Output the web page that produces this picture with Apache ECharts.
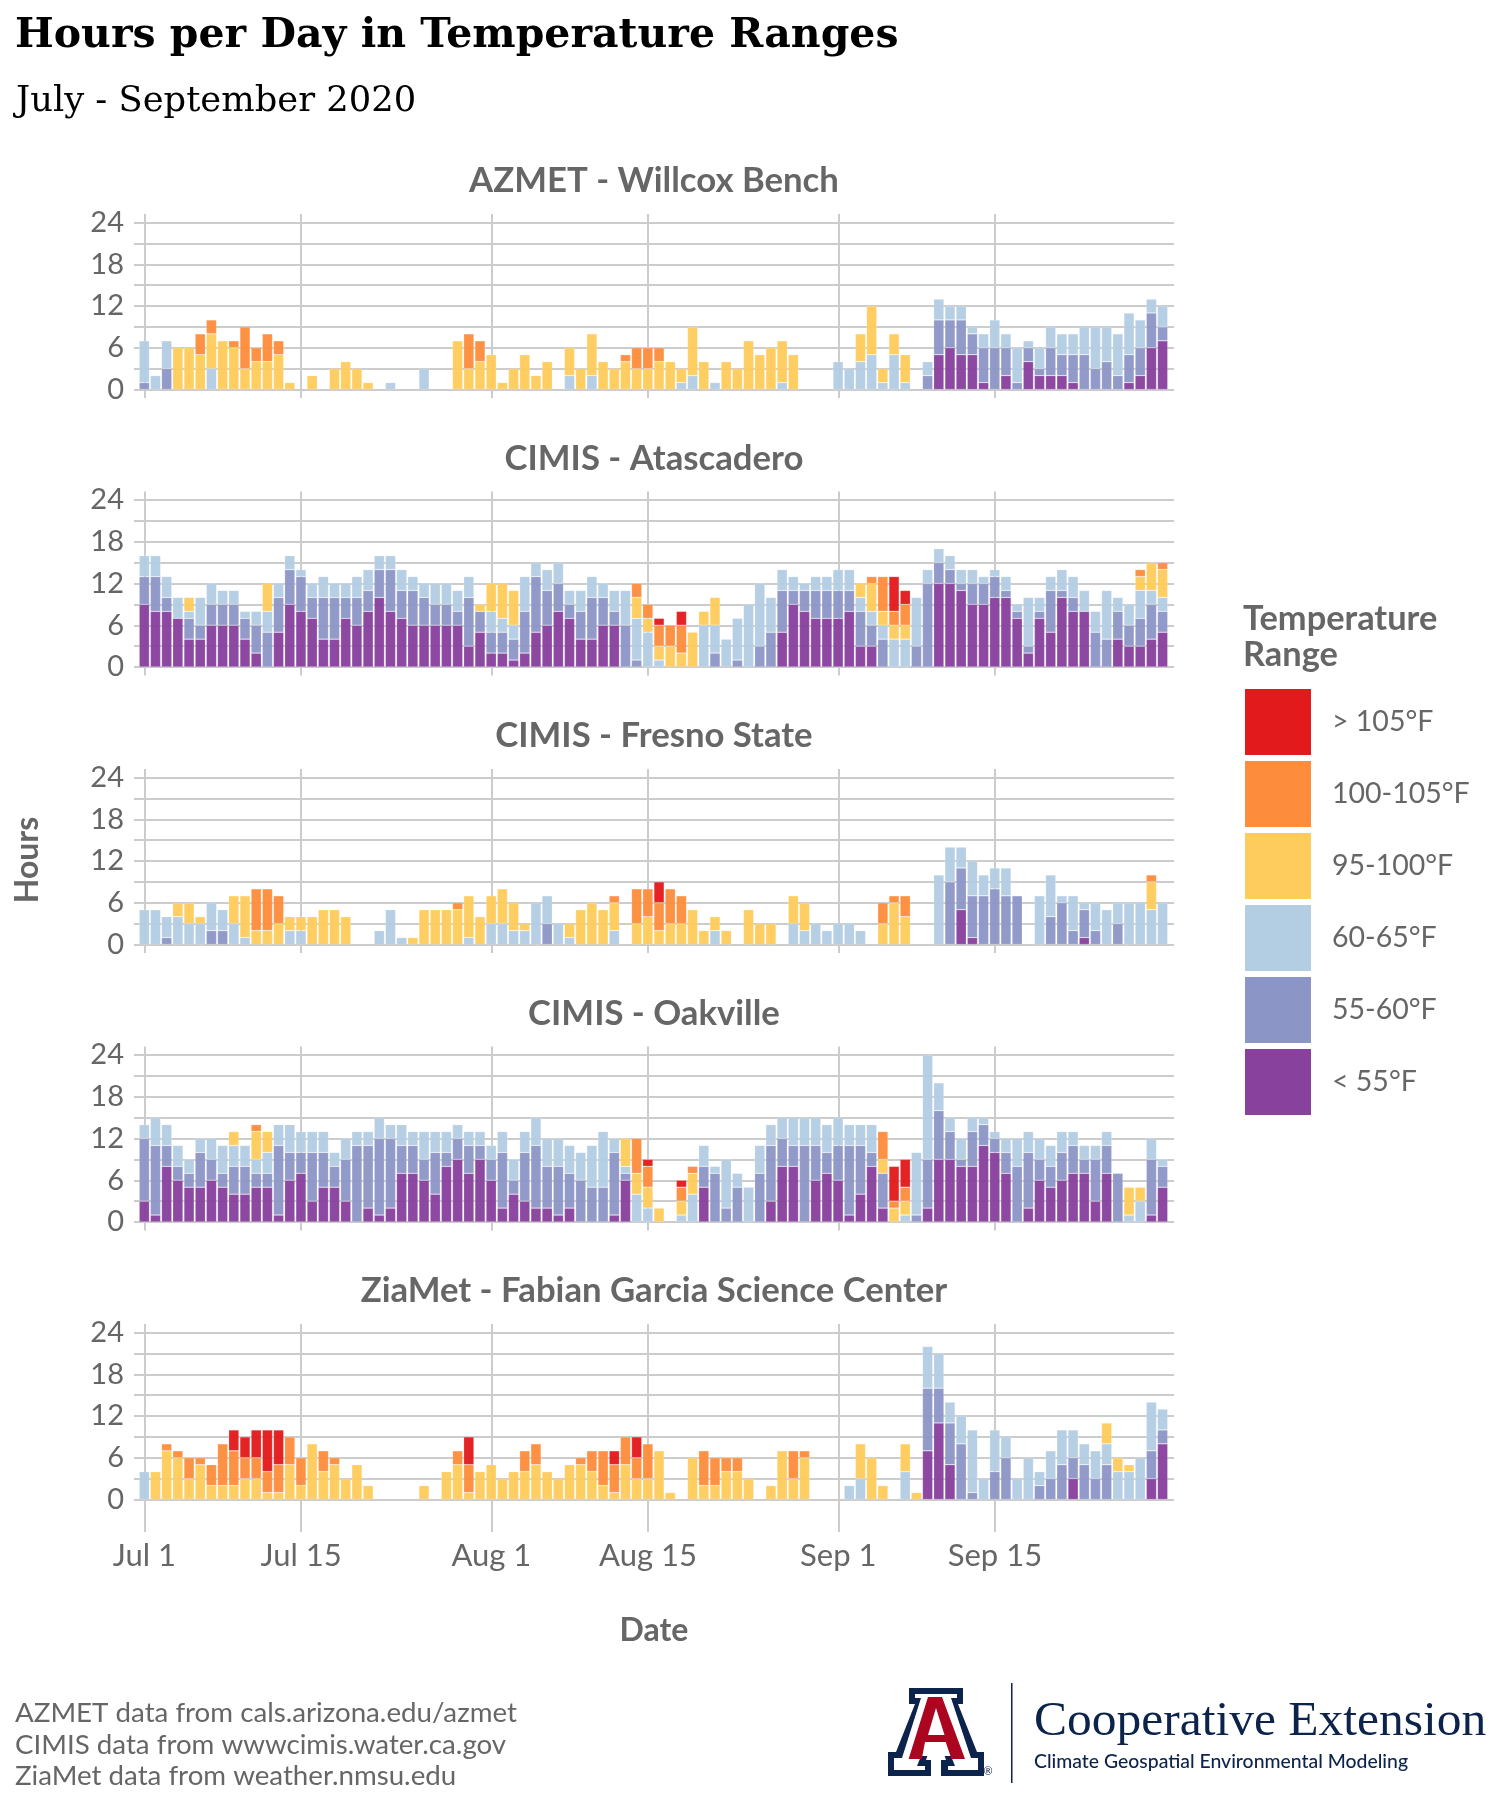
<!DOCTYPE html>
<html><head><meta charset="utf-8">
<style>html,body{margin:0;padding:0;background:#fff}#c{width:1506px;height:1806px}</style>
<script src="https://cdn.jsdelivr.net/npm/echarts@6/dist/echarts.min.js"></script>
</head><body><div id="c"></div>
<script>
// Temperature ranges, bottom of the stack first
const rangeNames = ['< 55°F','55-60°F','60-65°F','95-100°F','100-105°F','> 105°F'];
const rangeColors = ['#88419d','#8c96c6','#b3cde3','#fecc5c','#fd8d3c','#e31a1c'];
const stationNames = ['AZMET - Willcox Bench','CIMIS - Atascadero','CIMIS - Fresno State','CIMIS - Oakville','ZiaMet - Fabian Garcia Science Center'];
// days since Jul 1 (92 days, Jul 1 - Sep 30)
const tickDays = [0,14,31,45,62,76];
const tickLabels = ['Jul 1','Jul 15','Aug 1','Aug 15','Sep 1','Sep 15'];
const hourLabels = [0,6,12,18,24];
const hourLines = [0,3,6,9,12,15,18,21,24];

const willcoxLt55 = [
0,0,0,0,0,0,0,0,0,0, 0,0,0,0,0,0,0,0,0,0, 0,0,0,0,0,0,0,0,0,0, 0,0,0,0,0,0,0,0,0,0,
0,0,0,0,0,0,0,0,0,0, 0,0,0,0,0,0,0,0,0,0, 0,0,0,0,0,0,0,0,0,0, 0,5,6,5,5,1,0,2,0,4, 2,2,2,1,0,0,0,0,1,2, 6,7];
const willcox55 = [
1,0,3,0,0,0,0,0,0,0, 0,0,0,0,0,0,0,0,0,0, 0,0,0,0,0,0,0,0,0,0, 0,0,0,0,0,0,0,0,0,0,
0,0,0,0,0,0,0,0,0,0, 0,0,0,0,0,0,0,0,0,0, 0,0,0,0,0,0,0,0,0,0, 2,5,4,5,3,5,6,4,1,2, 1,4,3,4,5,3,4,2,4,4, 5,2];
const willcox60 = [
6,2,4,0,0,0,3,0,0,0, 0,0,0,0,0,0,0,0,0,0, 0,0,1,0,0,3,0,0,0,0, 0,0,0,0,0,0,0,0,2,0,
2,0,0,0,0,0,0,0,1,2, 0,1,0,0,0,0,0,1,0,0, 0,0,4,3,4,5,1,5,1,0, 2,3,2,2,1,2,4,2,5,1, 3,3,3,3,4,6,5,6,6,4, 2,3];
const willcox95 = [
0,0,0,6,6,5,5,7,6,3, 4,4,5,1,0,2,0,3,4,3, 1,0,0,0,0,0,0,0,7,3, 4,5,1,3,5,2,4,0,4,3,
6,4,3,4,3,3,4,4,2,7, 4,0,4,3,7,5,6,6,5,0, 0,0,0,0,4,7,2,3,4,0, 0,0,0,0,0,0,0,0,0,0, 0,0,0,0,0,0,0,0,0,0, 0,0];
const willcox100 = [
0,0,0,0,0,3,2,0,1,6, 2,4,2,0,0,0,0,0,0,0, 0,0,0,0,0,0,0,0,0,5, 3,0,0,0,0,0,0,0,0,0,
0,0,0,1,3,3,2,0,0,0, 0,0,0,0,0,0,0,0,0,0, 0,0,0,0,0,0,0,0,0,0, 0,0,0,0,0,0,0,0,0,0, 0,0,0,0,0,0,0,0,0,0, 0,0];
const willcox105 = [
0,0,0,0,0,0,0,0,0,0, 0,0,0,0,0,0,0,0,0,0, 0,0,0,0,0,0,0,0,0,0, 0,0,0,0,0,0,0,0,0,0,
0,0,0,0,0,0,0,0,0,0, 0,0,0,0,0,0,0,0,0,0, 0,0,0,0,0,0,0,0,0,0, 0,0,0,0,0,0,0,0,0,0, 0,0,0,0,0,0,0,0,0,0, 0,0];

const atasLt55 = [
9,8,8,7,4,4,6,6,6,4, 2,0,5,9,8,7,4,4,7,6, 8,10,8,7,6,6,6,6,6,3, 5,2,2,1,2,5,6,8,7,4,
4,6,6,0,0,0,0,0,0,0, 0,0,0,0,0,0,0,5,9,8, 7,7,7,8,3,3,0,0,0,0, 0,12,12,11,9,9,10,10,7,2, 7,5,10,8,8,0,0,4,3,3, 4,5];
const atas55 = [
4,5,2,0,3,2,3,3,3,3, 4,5,5,5,5,3,6,6,3,4, 3,4,6,4,5,4,3,3,2,7, 3,3,3,3,6,8,5,4,2,4,
6,4,2,6,1,0,0,0,0,0, 0,2,0,1,0,3,5,6,2,3, 4,4,4,3,5,3,4,0,0,3, 12,3,2,1,3,3,3,1,1,1, 1,6,1,2,0,5,4,4,3,4, 5,3];
const atas60 = [
3,3,3,3,1,4,3,2,2,1, 2,3,2,2,1,2,3,2,2,3, 3,2,2,3,2,2,3,3,3,3, 0,3,2,2,5,2,3,3,2,3,
3,2,3,5,6,5,1,0,0,0, 6,4,4,6,9,9,5,3,2,1, 2,2,3,3,2,2,2,4,4,7, 2,2,2,2,2,1,1,2,1,7, 2,2,3,3,3,3,7,2,3,4, 2,2];
const atas95 = [
0,0,0,0,2,0,0,0,0,0, 0,4,0,0,0,0,0,0,0,0, 0,0,0,0,0,0,0,0,0,0, 1,4,5,5,0,0,0,0,0,0,
0,0,0,0,3,2,2,3,2,5, 2,4,0,0,0,0,0,0,0,0, 0,0,0,0,2,4,2,2,2,0, 0,0,0,0,0,0,0,0,0,0, 0,0,0,0,0,0,0,0,0,2, 4,4];
const atas100 = [
0,0,0,0,0,0,0,0,0,0, 0,0,0,0,0,0,0,0,0,0, 0,0,0,0,0,0,0,0,0,0, 0,0,0,0,0,0,0,0,0,0,
0,0,0,0,2,2,3,3,4,0, 0,0,0,0,0,0,0,0,0,0, 0,0,0,0,0,1,5,2,3,0, 0,0,0,0,0,0,0,0,0,0, 0,0,0,0,0,0,0,0,0,1, 0,1];
const atas105 = [
0,0,0,0,0,0,0,0,0,0, 0,0,0,0,0,0,0,0,0,0, 0,0,0,0,0,0,0,0,0,0, 0,0,0,0,0,0,0,0,0,0,
0,0,0,0,0,0,1,0,2,0, 0,0,0,0,0,0,0,0,0,0, 0,0,0,0,0,0,0,5,2,0, 0,0,0,0,0,0,0,0,0,0, 0,0,0,0,0,0,0,0,0,0, 0,0];

const fresnoLt55 = [
0,0,0,0,0,0,0,0,0,0, 0,0,0,0,0,0,0,0,0,0, 0,0,0,0,0,0,0,0,0,0, 0,0,0,0,0,0,0,0,0,0,
0,0,0,0,0,0,0,0,0,0, 0,0,0,0,0,0,0,0,0,0, 0,0,0,0,0,0,0,0,0,0, 0,0,0,5,1,0,0,0,0,0, 0,0,0,0,1,0,0,0,0,0, 0,0];
const fresno55 = [
0,0,1,0,0,0,2,2,0,0, 0,0,0,0,0,0,0,0,0,0, 0,0,0,0,0,0,0,0,0,0, 0,0,0,0,0,0,3,0,0,0,
0,0,0,0,0,0,0,0,0,0, 0,0,0,0,0,0,0,0,0,0, 0,0,0,0,0,0,0,0,0,0, 0,0,9,6,6,7,8,7,7,0, 0,4,6,2,4,2,0,3,0,0, 0,0];
const fresno60 = [
5,5,3,4,3,3,4,3,3,1, 0,0,0,2,2,0,0,0,0,0, 0,2,5,1,0,0,0,0,0,1, 0,3,3,2,2,6,4,3,1,0,
0,0,2,0,0,0,0,0,0,0, 0,2,0,0,0,0,0,0,3,2, 3,2,3,3,2,0,0,0,0,0, 0,10,5,3,5,3,3,4,0,0, 7,6,1,5,1,4,5,3,6,6, 5,6];
const fresno95 = [
0,0,0,2,3,1,0,0,4,6, 2,2,3,2,2,4,5,5,4,0, 0,0,0,0,1,5,5,5,5,6, 4,4,5,4,1,0,0,0,2,5,
6,5,4,0,3,4,2,3,3,5, 2,2,2,0,5,3,3,0,4,4, 0,0,0,0,0,0,3,6,4,0, 0,0,0,0,0,0,0,0,0,0, 0,0,0,0,0,0,0,0,0,0, 4,0];
const fresno100 = [
0,0,0,0,0,0,0,0,0,0, 6,6,4,0,0,0,0,0,0,0, 0,0,0,0,0,0,0,0,1,0, 0,0,0,0,0,0,0,0,0,0,
0,0,1,0,5,4,4,5,4,0, 0,0,0,0,0,0,0,0,0,0, 0,0,0,0,0,0,3,1,3,0, 0,0,0,0,0,0,0,0,0,0, 0,0,0,0,0,0,0,0,0,0, 1,0];
const fresno105 = [
0,0,0,0,0,0,0,0,0,0, 0,0,0,0,0,0,0,0,0,0, 0,0,0,0,0,0,0,0,0,0, 0,0,0,0,0,0,0,0,0,0,
0,0,0,0,0,0,3,0,0,0, 0,0,0,0,0,0,0,0,0,0, 0,0,0,0,0,0,0,0,0,0, 0,0,0,0,0,0,0,0,0,0, 0,0,0,0,0,0,0,0,0,0, 0,0];

const oakLt55 = [
3,1,8,6,5,5,6,5,4,4, 5,5,1,6,7,3,5,5,3,0, 2,1,2,7,7,6,4,8,9,7, 9,6,2,4,3,2,2,1,2,0,
0,0,1,6,0,0,0,0,0,0, 5,0,0,0,0,0,3,8,8,0, 6,7,6,1,4,8,2,0,0,0, 2,9,9,8,8,11,10,7,0,2, 6,5,6,7,7,3,7,0,0,0, 1,5];
const oak55 = [
9,10,3,2,2,5,3,2,4,4, 2,2,10,4,3,7,5,3,6,11, 9,11,10,4,4,3,6,2,3,4, 2,3,8,2,7,9,6,7,5,6,
5,5,9,1,0,0,0,0,0,0, 3,7,2,5,0,7,8,4,3,11, 5,3,5,10,7,2,5,0,0,1, 7,7,4,1,5,3,2,3,8,8, 3,3,4,4,2,6,4,7,0,0, 8,3];
const oak60 = [
2,4,3,3,2,2,3,4,3,3, 2,3,3,4,3,3,3,2,3,2, 2,3,2,3,2,4,3,3,2,2, 2,2,3,3,3,4,4,4,4,4,
6,8,2,1,4,2,0,0,1,4, 3,1,7,2,5,4,3,3,4,4, 4,4,4,3,3,4,0,0,1,9, 15,4,2,3,2,1,1,2,4,3, 3,3,3,2,2,2,2,0,1,3, 3,1];
const oak95 = [
0,0,0,0,0,0,0,0,2,0, 4,3,0,0,0,0,0,0,0,0, 0,0,0,0,0,0,0,0,0,0, 0,0,0,0,0,0,0,0,0,0,
0,0,0,4,3,3,2,0,2,3, 0,0,0,0,0,0,0,0,0,0, 0,0,0,0,0,0,2,2,2,0, 0,0,0,0,0,0,0,0,0,0, 0,0,0,0,0,0,0,0,4,2, 0,0];
const oak100 = [
0,0,0,0,0,0,0,0,0,0, 1,0,0,0,0,0,0,0,0,0, 0,0,0,0,0,0,0,0,0,0, 0,0,0,0,0,0,0,0,0,0,
0,0,0,0,5,3,0,0,2,1, 0,0,0,0,0,0,0,0,0,0, 0,0,0,0,0,0,4,1,2,0, 0,0,0,0,0,0,0,0,0,0, 0,0,0,0,0,0,0,0,0,0, 0,0];
const oak105 = [
0,0,0,0,0,0,0,0,0,0, 0,0,0,0,0,0,0,0,0,0, 0,0,0,0,0,0,0,0,0,0, 0,0,0,0,0,0,0,0,0,0,
0,0,0,0,0,1,0,0,1,0, 0,0,0,0,0,0,0,0,0,0, 0,0,0,0,0,0,0,5,4,0, 0,0,0,0,0,0,0,0,0,0, 0,0,0,0,0,0,0,0,0,0, 0,0];

const ziaLt55 = [
0,0,0,0,0,0,0,0,0,0, 0,0,0,0,0,0,0,0,0,0, 0,0,0,0,0,0,0,0,0,0, 0,0,0,0,0,0,0,0,0,0,
0,0,0,0,0,0,0,0,0,0, 0,0,0,0,0,0,0,0,0,0, 0,0,0,0,0,0,0,0,0,0, 7,11,5,0,0,0,0,0,0,0, 0,0,0,3,0,0,0,0,0,0, 3,8];
const zia55 = [
0,0,0,0,0,0,0,0,0,0, 0,0,0,0,0,0,0,0,0,0, 0,0,0,0,0,0,0,0,0,0, 0,0,0,0,0,0,0,0,0,0,
0,0,0,0,0,0,0,0,0,0, 0,0,0,0,0,0,0,0,0,0, 0,0,0,0,0,0,0,0,0,0, 9,5,6,8,1,0,4,6,0,0, 2,3,5,3,5,3,5,0,0,0, 4,2];
const zia60 = [
4,0,0,0,0,0,0,0,0,0, 0,0,0,0,0,0,0,0,0,0, 0,0,0,0,0,0,0,0,0,0, 0,0,0,0,0,0,0,0,0,0,
0,0,0,0,0,0,0,0,0,0, 0,0,0,0,0,0,0,0,0,0, 0,0,0,2,3,0,0,0,4,0, 6,5,3,4,9,3,6,3,3,6, 2,4,5,4,3,4,3,4,4,6, 7,3];
const zia95 = [
0,4,7,6,3,5,2,2,2,3, 3,1,1,5,2,8,4,5,3,5, 2,0,0,0,0,2,0,4,5,1, 4,5,3,4,4,5,4,3,5,5,
4,2,1,5,3,3,7,1,0,6, 2,2,4,4,3,0,2,7,3,6, 0,0,0,0,5,6,2,0,4,1, 0,0,0,0,0,0,0,0,0,0, 0,0,0,0,0,0,3,2,1,0, 0,0];
const zia100 = [
0,0,1,1,3,1,3,6,5,3, 3,3,4,4,4,0,3,1,0,0, 0,0,0,0,0,0,0,0,2,4, 0,0,0,0,3,3,0,0,0,1,
3,5,4,4,3,5,0,0,0,0, 5,4,2,2,0,0,0,0,4,1, 0,0,0,0,0,0,0,0,0,0, 0,0,0,0,0,0,0,0,0,0, 0,0,0,0,0,0,0,0,0,0, 0,0];
const zia105 = [
0,0,0,0,0,0,0,0,3,3, 4,6,5,0,0,0,0,0,0,0, 0,0,0,0,0,0,0,0,0,4, 0,0,0,0,0,0,0,0,0,0,
0,0,2,0,3,0,0,0,0,0, 0,0,0,0,0,0,0,0,0,0, 0,0,0,0,0,0,0,0,0,0, 0,0,0,0,0,0,0,0,0,0, 0,0,0,0,0,0,0,0,0,0, 0,0];

const stationData = [
  [willcoxLt55,willcox55,willcox60,willcox95,willcox100,willcox105],
  [atasLt55,atas55,atas60,atas95,atas100,atas105],
  [fresnoLt55,fresno55,fresno60,fresno95,fresno100,fresno105],
  [oakLt55,oak55,oak60,oak95,oak100,oak105],
  [ziaLt55,zia55,zia60,zia95,zia100,zia105]
];

// ---------- layout ----------
const SANS = 'Lato, "Noto Sans", sans-serif';
const SERIF = '"DejaVu Serif", serif';
const GREY = '#666666';
const NAVY = '#0c234b';
const GRIDC = '#cccccc';
const pxPerHour = 167/24;
const zeroY = [389.5,667,944.5,1222,1499.5];
const below = [8.4,8.4,8.4,8.4,32.5];   // panel space below the zero line
const above = 8.4;
const dayIndex = willcoxLt55.map((v,i)=>String(i));

const grids=[],xAxes=[],yAxes=[],series=[],titles=[];
stationNames.forEach((name,p)=>{
  const top = zeroY[p]-24*pxPerHour-above;
  const bot = zeroY[p]+below[p];
  const yMin = -below[p]/pxPerHour, yMax = 24+above/pxPerHour;
  const last = p===stationNames.length-1;
  // backdrop grid: the lines and the labels
  grids.push({left:134,width:1040,top:top,height:bot-top});
  xAxes.push({gridIndex:2*p,type:'value',min:-0.93,max:92,
    axisLine:{show:false},
    axisTick:{show:false,customValues:tickDays},
    splitLine:{show:true,lineStyle:{color:GRIDC,width:2}},
    axisLabel:{show:last,customValues:tickDays,margin:8,color:GREY,fontFamily:SANS,fontSize:31,
      formatter:v=>tickLabels[tickDays.indexOf(v)]||''}
  });
  yAxes.push({gridIndex:2*p,type:'value',min:yMin,max:yMax,
    axisLine:{show:false},
    axisTick:{show:false,customValues:hourLines},
    splitLine:{show:true,lineStyle:{color:GRIDC,width:2}},
    axisLabel:{customValues:hourLabels,margin:10,color:GREY,fontFamily:SANS,fontSize:29}
  });
  // bar grid: one band per day, Jul 1 - Sep 30
  grids.push({left:138.7,width:1029.5,top:top,height:bot-top});
  xAxes.push({gridIndex:2*p+1,type:'category',data:dayIndex,boundaryGap:true,show:false});
  yAxes.push({gridIndex:2*p+1,type:'value',min:yMin,max:yMax,show:false,splitLine:{show:false}});
  titles.push({text:name,left:649,textAlign:'center',top:zeroY[p]-231,
    textStyle:{fontFamily:SANS,fontWeight:'bold',fontSize:34.7,color:GREY}});
  rangeNames.forEach((rn,r)=>{
    series.push({name:rn,type:'bar',xAxisIndex:2*p+1,yAxisIndex:2*p+1,stack:'s'+p,barWidth:10.3,
      itemStyle:{color:rangeColors[r],opacity:0.96,borderColor:'rgba(255,255,255,0.35)',borderWidth:0.6},
      emphasis:{disabled:true},
      animation:false,
      data:stationData[p][r].map(v=>v>0?v:'-')});
  });
});
titles.push({text:'Hours per Day in Temperature Ranges',left:10,top:11,
  textStyle:{fontFamily:SERIF,fontWeight:'bold',fontSize:41,color:'#000'}});
titles.push({text:'July - September 2020',left:11,top:79,
  textStyle:{fontFamily:SERIF,fontWeight:'normal',fontSize:35.3,color:'#000'}});

const option = {
  animation:false,
  backgroundColor:'#fff',
  title:titles, grid:grids, xAxis:xAxes, yAxis:yAxes, series:series,
  legend:{orient:'vertical',left:1240,top:684,itemWidth:66,itemHeight:66,itemGap:6,
    icon:'rect',selectedMode:false,itemStyle:{opacity:1,borderWidth:0},
    data:rangeNames.slice().reverse(),
    textStyle:{fontFamily:SANS,fontSize:28.5,color:GREY,padding:[4,0,0,16]}},
  graphic:[
    {type:'text',style:{text:'Date',x:654,y:1631,align:'center',verticalAlign:'middle',fontFamily:SANS,fontWeight:'bold',fontSize:32,fill:GREY}},
    {type:'text',rotation:Math.PI/2,x:28,y:860,style:{text:'Hours',x:0,y:0,align:'center',verticalAlign:'middle',fontFamily:SANS,fontWeight:'bold',fontSize:32,fill:GREY}},
    {type:'text',style:{text:'Temperature',x:1243,y:619,verticalAlign:'middle',fontFamily:SANS,fontWeight:'bold',fontSize:34.4,fill:GREY}},
    {type:'text',style:{text:'Range',x:1243,y:655,verticalAlign:'middle',fontFamily:SANS,fontWeight:'bold',fontSize:34.4,fill:GREY}},
    {type:'text',style:{text:'AZMET data from cals.arizona.edu/azmet',x:15,y:1713,verticalAlign:'middle',fontFamily:SANS,fontSize:27.7,fill:GREY}},
    {type:'text',style:{text:'CIMIS data from wwwcimis.water.ca.gov',x:15,y:1745,verticalAlign:'middle',fontFamily:SANS,fontSize:27.7,fill:GREY}},
    {type:'text',style:{text:'ZiaMet data from weather.nmsu.edu',x:15,y:1776,verticalAlign:'middle',fontFamily:SANS,fontSize:27.7,fill:GREY}},
    // University block A logo
    {type:'polygon',shape:{points:[[909,1688],[963,1688],[963,1704],[958,1704],[977,1752],[984,1752],[984,1776],[941,1776],[941,1760],[946,1760],[944,1754],[928,1754],[926,1760],[931,1760],[931,1776],[888,1776],[888,1752],[896,1752],[915,1704],[909,1704]]},style:{fill:NAVY}},
    {type:'polygon',shape:{points:[[915,1694],[957,1694],[957,1698],[951,1698],[971,1758],[978,1758],[978,1770],[948,1770],[948,1766],[955,1766],[951,1756],[921,1756],[917,1766],[925,1766],[925,1770],[894,1770],[894,1758],[902,1758],[921,1698],[915,1698]]},style:{fill:'#fff'}},
    {type:'polygon',shape:{points:[[928,1697],[942,1697],[965,1759],[951.5,1759],[945.7,1742],[925,1742],[921.8,1759],[908.6,1759]]},style:{fill:'#ab0520'}},
    {type:'polygon',shape:{points:[[936,1708],[944.5,1735],[928,1735]]},style:{fill:'#fff'}},
    {type:'text',style:{text:'®',x:988,y:1771,align:'center',verticalAlign:'middle',fontFamily:SANS,fontSize:11,fill:NAVY}},
    {type:'rect',shape:{x:1011,y:1683,width:1.5,height:100},style:{fill:NAVY}},
    {type:'text',style:{text:'Cooperative Extension',x:1034,y:1722,verticalAlign:'middle',fontFamily:'"Liberation Serif",serif',fontSize:49.5,fill:NAVY}},
    {type:'text',style:{text:'Climate Geospatial Environmental Modeling',x:1034,y:1762,verticalAlign:'middle',fontFamily:SANS,fontWeight:500,fontSize:19.4,fill:NAVY}}
  ]
};
const chart = echarts.init(document.getElementById('c'),null,{renderer:'canvas'});
chart.setOption(option);
</script></body></html>
